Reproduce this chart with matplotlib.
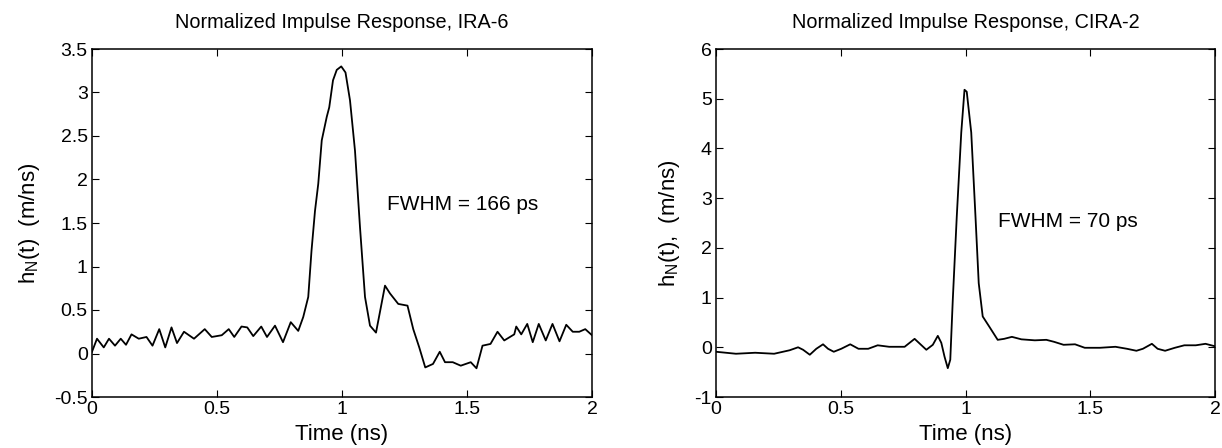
import numpy as np
import matplotlib.pyplot as plt

plt.rcParams['font.family'] = ['Liberation Sans', 'DejaVu Sans']
plt.rcParams['mathtext.fontset'] = 'custom'
plt.rcParams['mathtext.rm'] = 'Liberation Sans'
plt.rcParams['mathtext.it'] = 'Liberation Sans'

# IRA-6 normalized impulse response
t_ira = [0.0, 0.02, 0.047, 0.068, 0.092, 0.115, 0.136, 0.158, 0.187, 0.218,
         0.242, 0.269, 0.293, 0.318, 0.340, 0.368, 0.408, 0.451, 0.479, 0.519,
         0.547, 0.569, 0.598, 0.621, 0.645, 0.677, 0.700, 0.732, 0.764, 0.795,
         0.825, 0.845, 0.865, 0.878, 0.892, 0.905, 0.919, 0.939, 0.949, 0.964,
         0.979, 0.997, 1.014, 1.032, 1.052, 1.072, 1.092, 1.112, 1.136, 1.158,
         1.172, 1.192, 1.225, 1.262,
         1.285, 1.309, 1.333, 1.364, 1.391, 1.412, 1.443, 1.475, 1.515, 1.538,
         1.562, 1.594, 1.622, 1.649, 1.689, 1.697, 1.717, 1.741, 1.763, 1.787,
         1.815, 1.842, 1.870, 1.897, 1.923, 1.949, 1.973, 2.0]
h_ira = [0.02, 0.17, 0.07, 0.17, 0.09, 0.17, 0.10, 0.22, 0.17, 0.19,
         0.09, 0.28, 0.07, 0.30, 0.12, 0.25, 0.17, 0.28, 0.19, 0.21,
         0.28, 0.19, 0.31, 0.30, 0.20, 0.31, 0.19, 0.32, 0.13, 0.36,
         0.26, 0.42, 0.65, 1.18, 1.64, 1.95, 2.45, 2.72, 2.83, 3.14,
         3.26, 3.30, 3.23, 2.91, 2.33, 1.45, 0.65, 0.32, 0.24, 0.57,
         0.78, 0.69, 0.57, 0.55,
         0.28, 0.07, -0.16, -0.12, 0.02, -0.10, -0.10, -0.14, -0.10, -0.17,
         0.09, 0.11, 0.25, 0.15, 0.22, 0.31, 0.22, 0.34, 0.13, 0.34,
         0.15, 0.34, 0.14, 0.33, 0.25, 0.25, 0.28, 0.21]

# CIRA-2 normalized impulse response
t_cira = [0.0, 0.08, 0.157, 0.233, 0.295, 0.329, 0.349, 0.376, 0.402, 0.429,
          0.449, 0.472, 0.502, 0.538, 0.571, 0.61, 0.648, 0.694, 0.756, 0.796,
          0.843, 0.869, 0.889, 0.903, 0.916, 0.929, 0.939, 0.949, 0.965, 0.983,
          0.996, 1.005, 1.023, 1.040, 1.053, 1.069, 1.096, 1.129,
          1.155, 1.186, 1.224, 1.278, 1.324, 1.355, 1.393, 1.439, 1.478, 1.539,
          1.601, 1.647, 1.685, 1.711, 1.747, 1.770, 1.800, 1.839, 1.877, 1.923,
          1.962, 2.0]
h_cira = [-0.09, -0.13, -0.11, -0.13, -0.06, 0.0, -0.05, -0.15, -0.03, 0.06,
          -0.03, -0.09, -0.03, 0.06, -0.03, -0.03, 0.04, 0.01, 0.01, 0.17,
          -0.05, 0.05, 0.23, 0.09, -0.19, -0.42, -0.25, 0.95, 2.63, 4.32,
          5.18, 5.14, 4.32, 2.63, 1.29, 0.62, 0.41, 0.15,
          0.17, 0.21, 0.16, 0.14, 0.15, 0.11, 0.05, 0.06, -0.01, -0.01,
          0.01, -0.03, -0.07, -0.03, 0.07, -0.03, -0.07, -0.01, 0.04, 0.04,
          0.07, 0.02]

fig = plt.figure(figsize=(12.22, 4.48), dpi=100)
ax1 = fig.add_axes([92 / 1222, 51 / 448, 500 / 1222, 348 / 448])
ax2 = fig.add_axes([716 / 1222, 51 / 448, 499 / 1222, 348 / 448])

panels = [
    (ax1, t_ira, h_ira, (-0.5, 3.5), np.arange(-0.5, 3.51, 0.5),
     'Normalized Impulse Response, IRA-6', r'h$_N$(t)  (m/ns)',
     'FWHM = 166 ps', (1.18, 1.71)),
    (ax2, t_cira, h_cira, (-1, 6), np.arange(-1, 6.1, 1),
     'Normalized Impulse Response, CIRA-2', r'h$_N$(t),  (m/ns)',
     'FWHM = 70 ps', (1.13, 2.54)),
]

for ax, t, h, ylim, yt, title, ylab, note, pos in panels:
    ax.plot(t, h, 'k-', linewidth=1.3)
    ax.set_xlim(0, 2)
    ax.set_ylim(*ylim)
    ax.set_xticks([0, 0.5, 1, 1.5, 2])
    ax.set_xticklabels(['0', '0.5', '1', '1.5', '2'])
    ax.set_yticks(yt)
    ax.set_yticklabels(['%g' % v for v in yt])
    ax.tick_params(direction='in', length=5, top=True, right=True,
                   labelsize=14, pad=3)
    for s in ax.spines.values():
        s.set_linewidth(1.1)
    ax.set_title(title, fontsize=14.3, pad=15)
    ax.set_xlabel('Time (ns)', fontsize=16, labelpad=4)
    ax.set_ylabel(ylab, fontsize=16, labelpad=9)
    ax.text(pos[0], pos[1], note, fontsize=15, va='center', ha='left')

fig.savefig('out.png', dpi=100)
